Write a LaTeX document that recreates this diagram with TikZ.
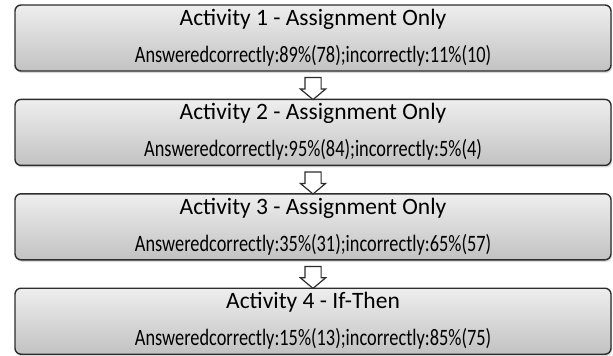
\documentclass[tikz,border=0pt]{standalone}
\usepackage{fontspec}
\setmainfont{Carlito}
\usetikzlibrary{positioning,calc,shapes.arrows,shadows}

\definecolor{boxtop}{RGB}{238,238,238}
\definecolor{boxbot}{RGB}{194,194,194}
\definecolor{boxline}{RGB}{45,45,45}
\newcommand{\statline}[1]{\scalebox{0.78}[1]{#1}}

\tikzset{
  actbox/.style={draw=boxline, line width=1.4pt, rounded corners=6pt,
    top color=boxtop, bottom color=boxbot,
    minimum width=596pt, minimum height=66pt, inner sep=0pt,
    drop shadow={opacity=0.3, shadow xshift=1pt, shadow yshift=-2pt}},
  acttitle/.style={anchor=base, inner sep=0pt, font=\fontsize{23.5}{28}\selectfont},
  actstat/.style={anchor=base, inner sep=0pt, font=\fontsize{23.5}{28}\selectfont},
  downarrow/.style={single arrow, rotate=-90, draw=boxline,
    line width=1.2pt, fill=white, inner xsep=0pt, inner ysep=7.5pt,
    minimum height=22pt, single arrow head extend=4.5pt, single arrow tip angle=100}
}

\begin{document}
\begin{tikzpicture}
\useasboundingbox (0,0) rectangle (613pt,-356pt);
\node[actbox] (act1) at (313pt,-38pt) {};
\node[actbox, below=27pt of act1] (act2) {};
\node[actbox, below=27pt of act2] (act3) {};
\node[actbox, below=27pt of act3] (act4) {};
\node[acttitle] (title1) at ([yshift=-21pt]act1.north) {Activity 1 - Assignment Only};
\node[actstat] (stat1) at ([yshift=-58pt]act1.north) {\statline{Answeredcorrectly:89\%(78);incorrectly:11\%(10)}};
\node[acttitle] (title2) at ([yshift=-21pt]act2.north) {Activity 2 - Assignment Only};
\node[actstat] (stat2) at ([yshift=-58pt]act2.north) {\statline{Answeredcorrectly:95\%(84);incorrectly:5\%(4)}};
\node[acttitle] (title3) at ([yshift=-21pt]act3.north) {Activity 3 - Assignment Only};
\node[actstat] (stat3) at ([yshift=-58pt]act3.north) {\statline{Answeredcorrectly:35\%(31);incorrectly:65\%(57)}};
\node[acttitle] (title4) at ([yshift=-21pt]act4.north) {Activity 4 - If-Then};
\node[actstat] (stat4) at ([yshift=-58pt]act4.north) {\statline{Answeredcorrectly:15\%(13);incorrectly:85\%(75)}};
% arrows between the activities
\node[downarrow] (arr1) at ($(act1.south)!0.5!(act2.north)$) {};
\node[downarrow] (arr2) at ($(act2.south)!0.5!(act3.north)$) {};
\node[downarrow] (arr3) at ($(act3.south)!0.5!(act4.north)$) {};
\end{tikzpicture}
\end{document}
